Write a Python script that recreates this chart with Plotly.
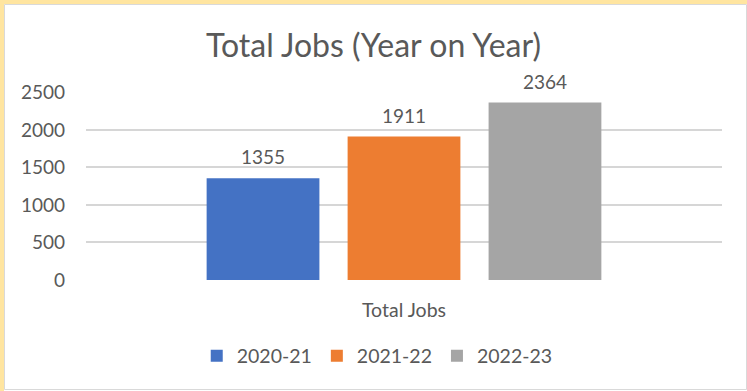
import plotly.graph_objects as go

categories = ["Total Jobs"]
series_names = ["2020-21", "2021-22", "2022-23"]
series_values = [[1355], [1911], [2364]]
series_colors = ["#4472C4", "#ED7D31", "#A5A5A5"]
y_ticks = [0, 500, 1000, 1500, 2000, 2500]

W, H = 747, 391
ML, MR, MT, MB = 86, 25, 92, 111
BARGAP = 0.335
GROUPGAP = 0.2
FONT = "Lato, 'Open Sans', sans-serif"
TXT = "#595959"

fig = go.Figure()
for name, vals, col in zip(series_names, series_values, series_colors):
    fig.add_trace(go.Bar(x=categories, y=vals, name=name, marker_color=col,
                         marker_line_width=0))

# data labels above bars
plot_w = W - ML - MR
slot = plot_w * (1 - BARGAP) / len(series_names)
for i, vals in enumerate(series_values):
    off = (i - (len(series_names) - 1) / 2) * slot
    for c, v in zip(categories, vals):
        fig.add_annotation(x=c, y=v, text=str(v), showarrow=False,
                           xshift=off, yshift=8, yanchor="bottom",
                           font=dict(family=FONT, size=19, color=TXT))

fig.update_layout(
    width=W, height=H,
    margin=dict(l=ML, r=MR, t=MT, b=MB, pad=0),
    paper_bgcolor="white", plot_bgcolor="white",
    barmode="group", bargap=BARGAP, bargroupgap=GROUPGAP,
    font=dict(family=FONT, size=19, color=TXT),
    title=dict(text="Total Jobs (Year on Year)", x=0.5, xref="container",
               y=1 - 46 / H, yref="container", yanchor="middle", xanchor="center",
               font=dict(family=FONT, size=32, color=TXT)),
    showlegend=True,
    legend=dict(orientation="h", x=0.505, xref="container", xanchor="center",
                y=1 - 356 / H, yref="container", yanchor="middle",
                font=dict(family=FONT, size=19.5, color=TXT), traceorder="normal"),
    xaxis=dict(showgrid=False, showline=False, ticks="", zeroline=False,
               tickfont=dict(family=FONT, size=19.5, color=TXT), ticklabelstandoff=16),
    yaxis=dict(range=[0, 2505], tickvals=y_ticks, showgrid=True,
               gridcolor="#D6D6D6", gridwidth=1.5, zeroline=False, showline=False,
               ticks="", tickfont=dict(family=FONT, size=19, color=TXT),
               ticklabelstandoff=20),
)

# chart frame: yellow strip on left/top plus thin gray border
def xp(px):
    return (px - ML) / plot_w

plot_h = H - MT - MB
def yp(py):
    return (H - MB - py) / plot_h

fig.add_shape(type="rect", xref="paper", yref="paper", x0=xp(0), x1=xp(4), y0=yp(H), y1=yp(0),
              fillcolor="#FFE5A0", line_width=0, layer="below")
fig.add_shape(type="rect", xref="paper", yref="paper", x0=xp(0), x1=xp(W), y0=yp(4), y1=yp(0),
              fillcolor="#FFE5A0", line_width=0, layer="below")
fig.add_shape(type="rect", xref="paper", yref="paper", x0=xp(4.5), x1=xp(746.5), y0=yp(389.5), y1=yp(4.5),
              fillcolor="rgba(0,0,0,0)", line=dict(color="#D9D9D9", width=1), layer="below")

fig.write_html("out.html")
